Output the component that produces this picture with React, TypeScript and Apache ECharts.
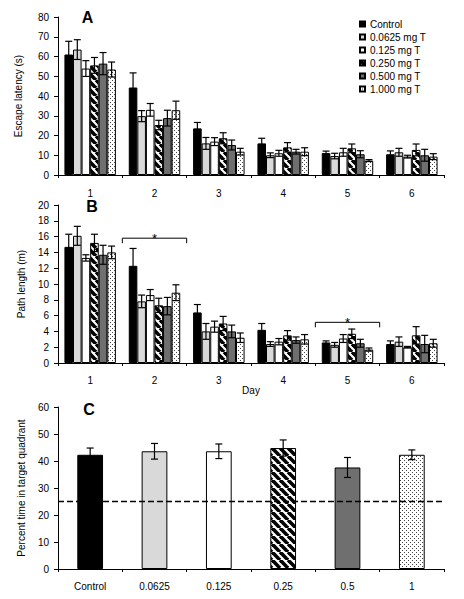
import React, { useEffect, useRef } from 'react';
import * as echarts from 'echarts';

// ---------- data ----------
const days = ['1', '2', '3', '4', '5', '6'];
const groupNames = ['Control', '0.0625 mg T', '0.125 mg T', '0.250 mg T', '0.500 mg T', '1.000 mg T'];

// Panel A: escape latency (s), mean and error per day
const latControl = [61.0, 44.3, 23.6, 16.0, 11.1, 10.5];
const lat0625 = [63.5, 29.8, 16.0, 10.0, 9.6, 11.5];
const lat125 = [53.9, 33.0, 16.9, 11.0, 11.5, 9.3];
const lat250 = [55.5, 25.3, 18.6, 14.0, 13.5, 12.7];
const lat500 = [56.4, 28.8, 15.2, 11.8, 10.5, 10.0];
const lat1000 = [53.4, 32.8, 11.8, 11.8, 7.3, 9.3];

const latErrControl = [6.7, 7.4, 3.0, 2.6, 1.0, 1.7];
const latErr0625 = [5.0, 2.8, 3.0, 1.2, 1.4, 2.0];
const latErr125 = [4.0, 3.2, 2.0, 1.5, 2.0, 0.7];
const latErr250 = [4.0, 2.4, 2.8, 2.4, 2.2, 3.0];
const latErr500 = [5.6, 4.0, 2.5, 1.2, 1.8, 3.0];
const latErr1000 = [3.8, 4.6, 1.7, 2.0, 0.5, 1.5];

// Panel B: path length (m)
const pathControl = [14.7, 12.3, 6.4, 4.2, 2.6, 2.4];
const path0625 = [16.1, 7.8, 4.0, 2.4, 2.3, 2.7];
const path125 = [13.3, 8.6, 4.6, 2.7, 3.1, 2.0];
const path250 = [15.2, 7.3, 5.0, 3.5, 3.7, 3.5];
const path500 = [13.7, 7.2, 4.0, 2.9, 2.5, 2.4];
const path1000 = [14.0, 8.9, 3.2, 3.0, 1.7, 2.5];

const pathErrControl = [1.6, 2.2, 1.0, 0.8, 0.2, 0.4];
const pathErr0625 = [1.2, 0.8, 1.0, 0.3, 0.3, 0.6];
const pathErr125 = [0.4, 0.7, 0.7, 0.4, 0.5, 0.1];
const pathErr250 = [1.1, 0.9, 0.9, 0.6, 0.6, 1.1];
const pathErr500 = [1.2, 1.1, 0.8, 0.4, 0.5, 1.1];
const pathErr1000 = [0.8, 1.0, 0.6, 0.6, 0.2, 0.5];

// Panel B significance brackets (day index, bracket height)
const sigDayIdx = [1, 4];
const sigBracketY = [15.8, 5.15];

// Panel C: percent time in target quadrant
const doseLabels = ['Control', '0.0625', '0.125', '0.25', '0.5', '1'];
const pctTime = [42.3, 43.6, 43.6, 44.8, 37.6, 42.3];
const pctErr = [2.5, 2.9, 2.7, 3.0, 3.7, 1.8];
const chanceLevel = 25;

const latency = [latControl, lat0625, lat125, lat250, lat500, lat1000];
const latencyErr = [latErrControl, latErr0625, latErr125, latErr250, latErr500, latErr1000];
const pathLen = [pathControl, path0625, path125, path250, path500, path1000];
const pathLenErr = [pathErrControl, pathErr0625, pathErr125, pathErr250, pathErr500, pathErr1000];

const FONT = '"Liberation Sans", Arial, sans-serif';

function makeStripes() {
  const s = 8;
  const c = document.createElement('canvas');
  c.width = s; c.height = s;
  const ctx = c.getContext('2d')!;
  ctx.fillStyle = '#ffffff';
  ctx.fillRect(0, 0, s, s);
  ctx.strokeStyle = '#000000';
  ctx.lineWidth = 3.6;
  for (const k of [-s, 0, s]) {
    ctx.beginPath();
    ctx.moveTo(k, 0);
    ctx.lineTo(k + s, s);
    ctx.stroke();
  }
  return { image: c, repeat: 'repeat', imageWidth: s, imageHeight: s };
}

function makeDots() {
  const s = 4;
  const c = document.createElement('canvas');
  c.width = s; c.height = s;
  const ctx = c.getContext('2d')!;
  ctx.fillStyle = '#ffffff';
  ctx.fillRect(0, 0, s, s);
  ctx.fillStyle = '#444444';
  ctx.fillRect(0, 0, 1, 1);
  ctx.fillRect(2, 2, 1, 1);
  return { image: c, repeat: 'repeat', imageWidth: s, imageHeight: s };
}

function errRender(nSeries: number, gapFrac: number) {
  return (params: any, api: any) => {
    const cat = api.value(0);
    const s = api.value(1);
    const v = api.value(2);
    const e = api.value(3);
    const cw = api.size([1, 0])[0];
    const total = cw * (1 - gapFrac);
    const bw = total / nSeries;
    const base = api.coord([cat, v]);
    const x = base[0] - total / 2 + bw * (s + 0.5);
    const yHi = api.coord([cat, v + e])[1];
    const yLo = api.coord([cat, v - e])[1];
    const hw = 3.5;
    const st = { stroke: '#000', lineWidth: 1.2 };
    return {
      type: 'group',
      children: [
        { type: 'line', shape: { x1: x, y1: yHi, x2: x, y2: yLo }, style: st },
        { type: 'line', shape: { x1: x - hw, y1: yHi, x2: x + hw, y2: yHi }, style: st },
        { type: 'line', shape: { x1: x - hw, y1: yLo, x2: x + hw, y2: yLo }, style: st },
      ],
    };
  };
}

function bracketRender(params: any, api: any) {
  const cat = api.value(0);
  const yv = api.value(1);
  const cw = api.size([1, 0])[0];
  const p = api.coord([cat, yv]);
  const x0 = p[0] - cw / 2;
  const x1 = p[0] + cw / 2;
  const y = p[1];
  return {
    type: 'group',
    children: [
      {
        type: 'polyline',
        shape: { points: [[x0, y + 5], [x0, y], [x1, y], [x1, y + 5]] },
        style: { stroke: '#000', lineWidth: 1, fill: 'none' },
      },
      {
        type: 'text',
        x: p[0],
        y: y,
        style: { text: '*', fontSize: 13, fontFamily: FONT, fill: '#000', align: 'center', verticalAlign: 'middle' },
      },
    ],
  };
}

export default function App() {
  const ref = useRef<HTMLDivElement>(null);
  useEffect(() => {
    if (!ref.current) return;
    const chart = echarts.init(ref.current, undefined, { renderer: 'svg' });
    const fills: any[] = ['#000000', '#d9d9d9', '#ffffff', makeStripes(), '#6f6f6f', makeDots()];

    const gridL = 58;
    const gridW = 386;
    const grids = [
      { left: gridL, top: 17, width: gridW, height: 158 },
      { left: gridL, top: 205, width: gridW, height: 158 },
      { left: gridL, top: 407, width: gridW, height: 162 },
    ];

    const axisLineStyle = { lineStyle: { color: '#000', width: 1 } };
    const labelStyle = { color: '#000', fontSize: 10, fontFamily: FONT };

    const xAxis = [0, 1, 2].map((i) => ({
      type: 'category',
      gridIndex: i,
      data: i === 2 ? doseLabels : days,
      axisLine: axisLineStyle,
      axisTick: { show: true, length: 3, lineStyle: { color: '#000' } },
      axisLabel: { ...labelStyle, margin: i === 0 ? 13 : 12 },
      name: i === 1 ? 'Day' : '',
      nameLocation: 'middle',
      nameGap: 22,
      nameTextStyle: { ...labelStyle, verticalAlign: 'top' },
    }));

    const yDefs = [
      { max: 80, interval: 10, name: 'Escape latency (s)', gap: 35 },
      { max: 20, interval: 2, name: 'Path length (m)', gap: 32 },
      { max: 60, interval: 10, name: 'Percent time in target quadrant', gap: 32 },
    ];
    const yAxis = yDefs.map((d, i) => ({
      type: 'value',
      gridIndex: i,
      min: 0,
      max: d.max,
      interval: d.interval,
      axisLine: { show: true, ...axisLineStyle },
      axisTick: { show: true, length: 4, lineStyle: { color: '#000' } },
      axisLabel: { ...labelStyle, margin: 9 },
      splitLine: { show: false },
      name: d.name,
      nameLocation: 'middle',
      nameRotate: 90,
      nameGap: d.gap,
      nameTextStyle: labelStyle,
    }));

    const series: any[] = [];
    const addPanel = (panel: number, means: number[][], errs: number[][]) => {
      means.forEach((arr, s) => {
        series.push({
          type: 'bar',
          name: groupNames[s],
          xAxisIndex: panel,
          yAxisIndex: panel,
          data: arr,
          barGap: '0%',
          barCategoryGap: '20%',
          itemStyle: { color: fills[s], borderColor: '#000', borderWidth: 1 },
          emphasis: { disabled: true },
        });
      });
      const errData: number[][] = [];
      means.forEach((arr, s) => arr.forEach((v, d) => errData.push([d, s, v, errs[s][d]])));
      series.push({
        type: 'custom',
        xAxisIndex: panel,
        yAxisIndex: panel,
        data: errData,
        encode: { x: 0, y: 2 },
        renderItem: errRender(6, 0.2),
        z: 10,
        silent: true,
      });
    };
    addPanel(0, latency, latencyErr);
    addPanel(1, pathLen, pathLenErr);

    series.push({
      type: 'custom',
      xAxisIndex: 1,
      yAxisIndex: 1,
      data: sigDayIdx.map((d, i) => [d, sigBracketY[i]]),
      encode: { x: 0, y: 1 },
      renderItem: bracketRender,
      z: 11,
      silent: true,
    });

    series.push({
      type: 'bar',
      name: 'pct',
      xAxisIndex: 2,
      yAxisIndex: 2,
      barCategoryGap: '60%',
      data: pctTime.map((v, i) => ({
        value: v,
        itemStyle: { color: fills[i], borderColor: '#000', borderWidth: 1 },
      })),
      emphasis: { disabled: true },
      markLine: {
        silent: true,
        symbol: 'none',
        label: { show: false },
        lineStyle: { color: '#000', type: [6, 3], width: 1.3 },
        data: [{ yAxis: chanceLevel }],
        z: 12,
      },
    });
    series.push({
      type: 'custom',
      xAxisIndex: 2,
      yAxisIndex: 2,
      data: pctTime.map((v, i) => [i, 0, v, pctErr[i]]),
      encode: { x: 0, y: 2 },
      renderItem: errRender(1, 0.6),
      z: 10,
      silent: true,
    });

    chart.setOption({
      animation: false,
      textStyle: { fontFamily: FONT },
      grid: grids,
      xAxis,
      yAxis,
      legend: {
        data: groupNames,
        orient: 'vertical',
        left: 359,
        top: 19,
        padding: 0,
        icon: 'rect',
        itemWidth: 5,
        itemHeight: 5,
        itemGap: 3,
        selectedMode: false,
        textStyle: { color: '#000', fontSize: 10, fontFamily: FONT },
      },
      graphic: [
        { type: 'text', x: 87.5, y: 17, style: { text: 'A', font: `bold 16px ${FONT}`, fill: '#000', align: 'center', verticalAlign: 'middle' } },
        { type: 'text', x: 92, y: 206, style: { text: 'B', font: `bold 16px ${FONT}`, fill: '#000', align: 'center', verticalAlign: 'middle' } },
        { type: 'text', x: 89, y: 409.5, style: { text: 'C', font: `bold 16px ${FONT}`, fill: '#000', align: 'center', verticalAlign: 'middle' } },
      ],
      series,
    });
    return () => chart.dispose();
  }, []);
  return <div ref={ref} style={{ position: 'absolute', left: 0, top: 0, width: 464, height: 599, background: '#fff' }} />;
}
